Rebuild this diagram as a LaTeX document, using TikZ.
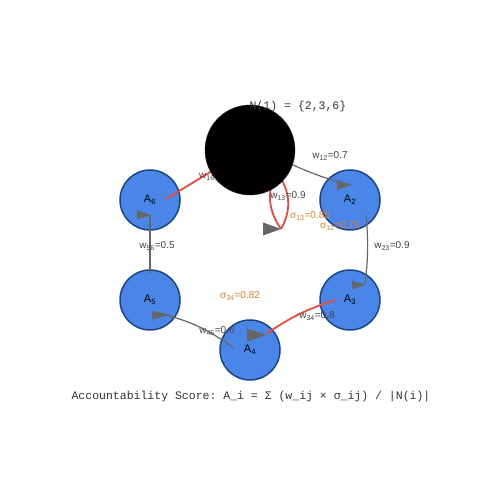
\documentclass[tikz,border=0pt]{standalone}
\usepackage{fontspec}
\setmainfont{Liberation Sans}
\setmonofont{Liberation Mono}
\usepackage{tikz}
\usetikzlibrary{positioning,calc}
\definecolor{agentblue}{HTML}{4A86E8}
\definecolor{agentedge}{HTML}{1C4587}
\definecolor{linkgray}{HTML}{666666}
\definecolor{linkred}{HTML}{E74C3C}
\definecolor{sigmaorange}{HTML}{E67E22}
\definecolor{labelgray}{HTML}{444444}
\tikzstyle{agent} = [circle, minimum size=60bp, inner sep=0pt, fill=agentblue,
draw=agentedge, line width=1.5bp, font=\fontsize{11bp}{13bp}\selectfont]
\tikzstyle{focus} = [circle, minimum size=90bp, inner sep=0pt, fill=black, draw=black!85]
\tikzstyle{link} = [line width=1.2bp, draw=linkgray]
\tikzstyle{trust} = [line width=1.8bp, draw=linkred]
\tikzstyle{marker} = [fill=linkgray]
\tikzstyle{weight} = [text=labelgray, inner sep=0pt, font=\fontsize{10bp}{12bp}\selectfont]
\tikzstyle{sigma} = [text=sigmaorange, inner sep=0pt, font=\fontsize{10bp}{12bp}\selectfont]
\tikzstyle{caption} = [text=black!80, inner sep=0pt, font=\ttfamily\fontsize{11.5bp}{13bp}\selectfont]

\begin{document}
\begin{tikzpicture}[x=50bp,y=50bp]
							\useasboundingbox (0,0) rectangle (10,10);
							\node (a2) at (7,6) [agent] {A\textsubscript{2}};
							\node (a3) at (7,4) [agent] {A\textsubscript{3}};
							\node (a4) at (5,3) [agent] {A\textsubscript{4}};
							\node (a5) at (3,4) [agent] {A\textsubscript{5}};
							\node (a6) at (3,6) [agent] {A\textsubscript{6}};
							% ends of the connectors
							\coordinate (s12) at (5.86,6.70);
							\coordinate (t12) at (7.02,6.30);
							\coordinate (s16) at (3.32,6.02);
							\coordinate (t16) at (4.60,6.80);
							\coordinate (s13) at (5.52,6.56);
							\coordinate (t13) at (5.62,5.42);
							\coordinate (s23) at (7.32,5.70);
							\coordinate (t23) at (7.30,4.32);
							\coordinate (s34) at (6.70,4.00);
							\coordinate (t34) at (5.32,3.32);
							\coordinate (s45) at (4.70,3.02);
							\coordinate (t45) at (3.06,3.76);
							\coordinate (s56) at (3.00,4.54);
							\coordinate (t56) at (3.00,5.70);
							\draw[link] (s12) to[bend right=5] (t12);
							\draw[trust] (s16) -- (t16);
							\draw[trust] (s13) to[bend left=35] (t13);
							\draw[trust] (s13) to[bend right=30] (t13);
							\draw[link] (s23) to[bend left=6] (t23);
							\draw[trust] (s34) to[bend right=8] (t34);
							\draw[link] (s45) to[bend right=12] (t45);
							\draw[link] (s56) -- (t56);
							% labels
							\node[weight] at (6.60,6.88) {w\textsubscript{12}=0.7};
							\node[weight, anchor=west] at (3.98,6.48) {w\textsubscript{16}=0.8};
							\node[weight] at (5.76,6.08) {w\textsubscript{13}=0.9};
							\node[sigma] at (6.20,5.68) {σ\textsubscript{13}=0.85};
							\node[sigma] at (6.80,5.48) {σ\textsubscript{12}=0.75};
							\node[weight] at (7.84,5.08) {w\textsubscript{23}=0.9};
							\node[weight] at (6.34,3.68) {w\textsubscript{34}=0.8};
							\node[sigma] at (4.80,4.08) {σ\textsubscript{34}=0.82};
							\node[weight] at (4.34,3.38) {w\textsubscript{45}=0.6};
							\node[weight] at (3.14,5.08) {w\textsubscript{56}=0.5};
							% markers
							\fill[marker] (t12) -- ++(-0.28,0.10) -- ++(0,-0.20) -- cycle;
							\fill[marker] (t13) -- ++(-0.36,0.13) -- ++(0,-0.26) -- cycle;
							\fill[marker] (7.30,4.30) -- ++(-0.26,0.09) -- ++(0,-0.18) -- cycle;
							\fill[marker] (5.32,3.30) -- ++(-0.38,0.13) -- ++(0,-0.26) -- cycle;
							\fill[marker] (3.40,3.70) -- ++(-0.36,0.09) -- ++(0,-0.18) -- cycle;
							\fill[marker] (3.02,5.70) -- ++(-0.28,0.09) -- ++(0,-0.18) -- cycle;
							\node (a1) at (5,7) [focus] {};
							\node[caption] (nb) at (5.96,7.86) {N(1) = \{2,3,6\}};
							\node[caption] (score) at (5.02,2.06) {Accountability Score: A\_i = Σ (w\_ij × σ\_ij) / |N(i)|};
						\end{tikzpicture}
\end{document}
